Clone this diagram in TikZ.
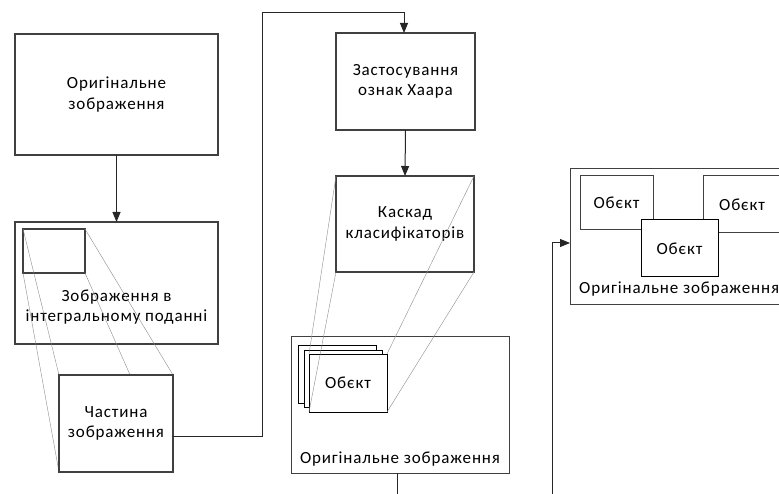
\documentclass[tikz,border=0pt]{standalone}
\usepackage{fontspec}
\setmainfont{Carlito}[LetterSpace=5]
\usetikzlibrary{arrows.meta}
\begin{document}
\begin{tikzpicture}[x=1pt,y=-1pt,
  box/.style={draw=black!75,line width=1.1pt,fill=white,inner sep=0pt,outer sep=0pt,align=center,font=\fontsize{17}{20.5}\selectfont},
  objbox/.style={draw=black!75,line width=1pt,fill=white,inner sep=0pt,outer sep=0pt,font=\fontsize{17}{20.5}\selectfont},
  lbl/.style={inner sep=0pt,align=center,font=\fontsize{17}{20.5}\selectfont},
  proj/.style={draw=black!45,line width=0.4pt},
  conn/.style={draw=black!85,line width=1pt},
  arr/.style={conn,-{Triangle[length=10pt,width=8pt]}}]
\useasboundingbox (0,0) rectangle (779,494);
\clip (0,0) rectangle (779,494);

% left column
\node[box,minimum width=203pt,minimum height=121pt] (A) at (116.5,94.5) {Оригінальне\\зображення};
\node[box,minimum width=203pt,minimum height=122pt] (B) at (116.5,283) {};
\node[lbl] (Bt) at (116.5,307) {Зображення в\\інтегральному поданні};
\node[box,minimum width=62pt,minimum height=44pt] (s) at (54,251) {};
\draw[proj] (s.north west) -- (59,375);
\draw[proj] (s.south west) -- (59,472);
\draw[proj] (s.north east) -- (173,375);
\draw[proj] (s.south east) -- (173,472);
\node[box,minimum width=114pt,minimum height=97pt] (C) at (116,423.5) {Частина\\зображення};

% middle column
\node[box,minimum width=139pt,minimum height=97pt] (D) at (405.5,81.5) {Застосування\\ознак Хаара};
\node[box,minimum width=138pt,minimum height=96pt] (E) at (405,224) {Каскад\\класифікаторів};
\node[box,line width=1pt,minimum width=218pt,minimum height=137pt] (F) at (400,404.5) {};
\node[lbl] (Ft) at (400,459) {Оригінальне зображення};
\node[objbox,draw=black,minimum width=78pt,minimum height=58pt] (o1) at (337,374) {};
\node[objbox,draw=black,minimum width=78pt,minimum height=57pt] (o2) at (343,378.5) {};
\node[objbox,draw=black,minimum width=78pt,minimum height=58pt] (o3) at (348,383) {Обєкт};
\draw[proj] (E.north west) -- (o3.north west);
\draw[proj] (E.south west) -- (o3.south west);
\draw[proj] (E.north east) -- (o3.north east);
\draw[proj] (E.south east) -- (o3.south east);

% right column
\node[box,line width=1pt,minimum width=240pt,minimum height=136pt] (G) at (690,237) {};
\node[objbox,minimum width=73pt,minimum height=54pt] (g1) at (616.5,203) {Обєкт};
\node[objbox,minimum width=100pt,minimum height=57pt] (g2) at (753,204.5) {\hspace*{-22pt}Обєкт};
\node[objbox,draw=black,minimum width=77pt,minimum height=57pt] (g3) at (679.5,248.5) {Обєкт};
\node[lbl,anchor=west] (Gt) at (579,289) {Оригінальне зображення};

% connectors
\coordinate (c1) at (262,436);
\coordinate (c2) at (262,13);
\coordinate (c3) at (404,13);
\coordinate (fb) at (397,500);
\coordinate (r0) at (552,500);
\coordinate (r1) at (552,243);
\draw[arr] (A.south) -- (B.north);
\draw[arr] (C.east |- c1) -- (c1) -- (c2) -- (c3) -- (c3 |- D.north);
\draw[arr] (D.south) -- (E.north);
\draw[conn] (F.south -| fb) -- (fb);
\draw[arr] (r0) -- (r1) -- (r1 -| G.west);
\end{tikzpicture}
\end{document}
